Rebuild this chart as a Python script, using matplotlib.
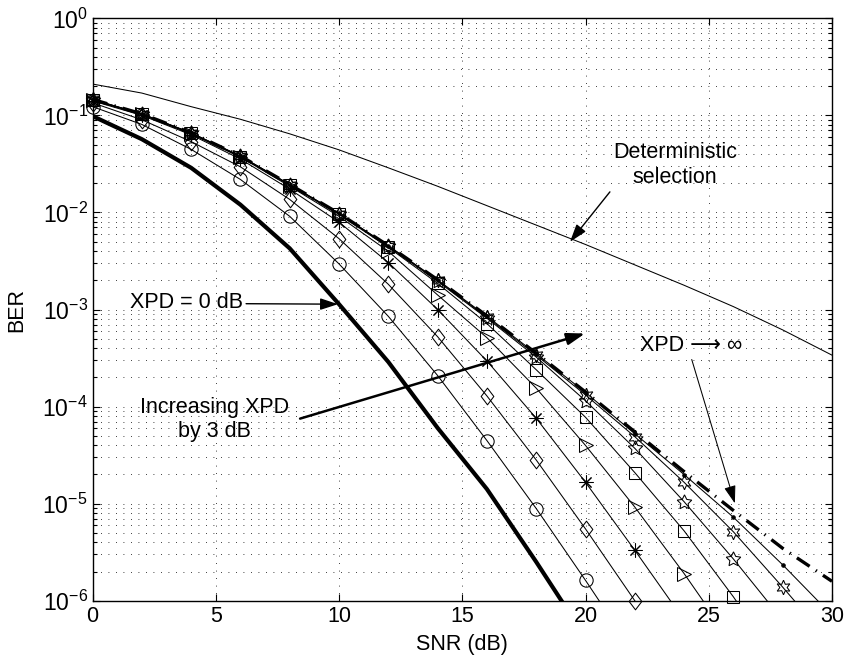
import numpy as np
import matplotlib.pyplot as plt
from matplotlib.path import Path
from matplotlib.ticker import LogLocator, NullFormatter, FixedLocator

plt.rcParams['font.family'] = ['Liberation Sans', 'DejaVu Sans']
plt.rcParams['mathtext.default'] = 'regular'
plt.rcParams['font.size'] = 15.5

# SNR grid (dB) the curves were evaluated on
snr = np.arange(0, 31, 2)

# log10(BER) of each curve, from XPD = 0 dB upward in 3 dB steps
log_ber_xpd0 = [-1.007, -1.245, -1.54, -1.92, -2.37, -2.945, -3.54, -4.22, -4.85, -5.60, -6.38]
log_ber_xpd3 = [-0.91, -1.093, -1.35, -1.66, -2.04, -2.53, -3.07, -3.68, -4.35, -5.05, -5.79, -6.55]
log_ber_xpd6 = [-0.87, -1.045, -1.27, -1.53, -1.866, -2.27, -2.74, -3.28, -3.89, -4.55, -5.26, -6.0]
log_ber_xpd9 = [-0.85, -1.0, -1.20, -1.45, -1.76, -2.10, -2.516, -3.0, -3.53, -4.12, -4.78, -5.48, -6.2]
log_ber_xpd12 = [-0.845, -0.99, -1.19, -1.43, -1.73, -2.04, -2.40, -2.85, -3.29, -3.81, -4.40, -5.035,
                 -5.72, -6.45]
log_ber_xpd15 = [-0.84, -0.988, -1.185, -1.425, -1.72, -2.02, -2.36, -2.73, -3.145, -3.62, -4.11, -4.68,
                 -5.28, -5.96, -6.7]
log_ber_xpd18 = [-0.838, -0.987, -1.183, -1.422, -1.715, -2.015, -2.35, -2.71, -3.09, -3.49, -3.94, -4.43,
                 -4.98, -5.57, -6.2]
log_ber_xpd21 = [-0.836, -0.985, -1.181, -1.42, -1.713, -2.012, -2.345, -2.70, -3.08, -3.47, -3.88, -4.31,
                 -4.78, -5.29, -5.86, -6.45]
log_ber_xpd24 = [-0.835, -0.984, -1.18, -1.419, -1.712, -2.01, -2.343, -2.695, -3.07, -3.455, -3.855, -4.28,
                 -4.70, -5.14, -5.63, -6.15]
log_ber_inf = [-0.835, -0.984, -1.18, -1.419, -1.712, -2.01, -2.342, -2.693, -3.065, -3.45, -3.85, -4.26,
               -4.67, -5.07, -5.46, -5.80]
log_ber_det = [-0.677, -0.77, -0.91, -1.04, -1.19, -1.355, -1.54, -1.73, -1.93, -2.13, -2.33, -2.54,
               -2.75, -2.97, -3.21, -3.47]

# matlab-style diamond (a bit taller than wide)
diamond = Path([(0, 1), (0.76, 0), (0, -1), (-0.76, 0), (0, 1)],
               [Path.MOVETO, Path.LINETO, Path.LINETO, Path.LINETO, Path.CLOSEPOLY])

marked = [
    (log_ber_xpd3, 'o', 9.6),
    (log_ber_xpd6, diamond, 12),
    (log_ber_xpd9, (8, 2, 0), 10),
    (log_ber_xpd12, '>', 10),
    (log_ber_xpd15, 's', 8.8),
    (log_ber_xpd18, (5, 1, 0), 11),
    (log_ber_xpd21, (6, 1, 0), 10.5),
    (log_ber_xpd24, '.', 5),
]

fig = plt.figure(figsize=(8.45, 6.64), dpi=100)
ax = fig.add_axes([0.1095, 0.0953, 0.9846 - 0.1095, 0.9724 - 0.0953])
ax.set_yscale('log')

ax.plot(snr[:len(log_ber_det)], 10.0 ** np.array(log_ber_det), color='k', lw=0.75)
ax.plot(snr[:len(log_ber_xpd0)], 10.0 ** np.array(log_ber_xpd0), color='k', lw=3.0)

for vals, mk, ms in marked:
    x = snr[:len(vals)]
    y = 10.0 ** np.array(vals)
    ax.plot(x, y, color='k', lw=0.75)
    keep = y >= 0.97e-6
    face = 'k' if mk == '.' else 'none'
    ax.plot(x[keep], y[keep], linestyle='none', marker=mk, ms=ms, mfc=face,
            mec='k', mew=0.75, clip_on=False, zorder=3)

inf_line, = ax.plot(snr[:len(log_ber_inf)], 10.0 ** np.array(log_ber_inf), color='k', lw=2.4)
inf_line.set_dashes([4.6, 2.2, 0.4, 2.2])

ax.set_xlim(0, 30)
ax.set_ylim(1e-6, 1)
ax.xaxis.set_major_locator(FixedLocator([0, 5, 10, 15, 20, 25, 30]))
ax.yaxis.set_major_locator(LogLocator(base=10, numticks=10))
ax.yaxis.set_minor_locator(LogLocator(base=10, subs=np.arange(2, 10), numticks=20))
ax.yaxis.set_minor_formatter(NullFormatter())
ax.tick_params(axis='y', labelsize=16.5)

dots = (0, (1, 8))
ax.grid(True, which='major', axis='x', linestyle=dots, lw=0.6, color='k')
ax.grid(True, which='both', axis='y', linestyle=dots, lw=0.6, color='k')

ax.tick_params(which='both', direction='in', top=True, right=True, width=0.8)
ax.tick_params(which='major', length=5)
ax.tick_params(which='minor', length=3)
for sp in ax.spines.values():
    sp.set_linewidth(1.0)

ax.set_xlabel('SNR (dB)', labelpad=5)
ax.set_ylabel('BER')
ax.yaxis.set_label_coords(-0.088, 0.5)

head = '-|>,head_length=0.7,head_width=0.23'

# annotations
ax.text(23.63, 10 ** -1.512, 'Deterministic\nselection', ha='center', va='center')
ax.annotate('', xy=(19.37, 10 ** -2.303), xytext=(20.99, 10 ** -1.788),
            arrowprops=dict(arrowstyle=head, color='k', lw=1.0, shrinkA=0, shrinkB=0))

ax.text(3.81, 10 ** -2.925, 'XPD = 0 dB', ha='center', va='center')
ax.annotate('', xy=(9.96, 10 ** -2.945), xytext=(6.23, 10 ** -2.94),
            arrowprops=dict(arrowstyle=head, color='k', lw=1.0, shrinkA=0, shrinkB=0))

ax.text(4.96, 10 ** -4.136, 'Increasing XPD\nby 3 dB', ha='center', va='center')
ax.annotate('', xy=(19.98, 10 ** -3.247), xytext=(8.42, 10 ** -4.124),
            arrowprops=dict(arrowstyle=head, color='k', lw=1.8, shrinkA=0, shrinkB=0))

ax.text(24.28, 10 ** -3.37, 'XPD \u27f6 \u221e', ha='center', va='center')
ax.annotate('', xy=(26.06, 10 ** -4.997), xytext=(24.31, 10 ** -3.515),
            arrowprops=dict(arrowstyle=head, color='k', lw=0.75, shrinkA=0, shrinkB=0))

fig.savefig('out.png', dpi=100)
